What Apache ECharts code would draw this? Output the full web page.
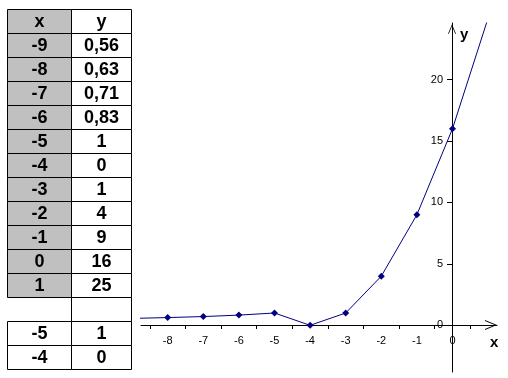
<!DOCTYPE html>
<html>
<head>
<meta charset="utf-8">
<script src="https://cdn.jsdelivr.net/npm/echarts@6/dist/echarts.min.js"></script>
<style>
html, body { margin: 0; padding: 0; background: #fff; }
#chart-container { width: 508px; height: 378px; }
</style>
</head>
<body>
<div id="chart-container"></div>
<script>
var xValues = [-9, -8, -7, -6, -5, -4, -3, -2, -1, 0, 1];
var yValues = [0.56, 0.63, 0.71, 0.83, 1, 0, 1, 4, 9, 16, 25];
var extraX = [-5, -4];
var extraY = [1, 0];
var xLabelValues = [-8, -7, -6, -5, -4, -3, -2, -1, 0];
var xTickValues = [-8.5, -7.5, -6.5, -5.5, -4.5, -3.5, -2.5, -1.5, -0.5, 0.5];
var yLabelValues = [0, 5, 10, 15, 20];

var dom = document.getElementById('chart-container');
var myChart = echarts.init(dom, null, { renderer: 'canvas' });

function fmt(v) {
    return String(v).replace('.', ',');
}

// open arrow head for the axis ends
var arrow = 'path://M0,12 L5,0 L10,12 L9,12 L5,2.5 L1,12 Z';

// table on the left
var tableRows = [{ x: 'x', y: 'y', grey: true }];
xValues.forEach(function (x, i) {
    tableRows.push({ x: fmt(x), y: fmt(yValues[i]), grey: true });
});
tableRows.push({ x: '', y: '', blank: true });
extraX.forEach(function (x, i) {
    tableRows.push({ x: fmt(x), y: fmt(extraY[i]) });
});

var colX = [7.5, 71.5];
var colW = [64, 60];
var top0 = 9.5, rowH = 24;
var graphics = [];
tableRows.forEach(function (row, r) {
    var y0 = top0 + r * rowH;
    [row.x, row.y].forEach(function (txt, c) {
        if (!(row.blank && c === 0)) {
            graphics.push({
                type: 'rect',
                shape: { x: colX[c], y: y0, width: colW[c], height: rowH },
                style: { fill: (row.grey && c === 0) ? '#c0c0c0' : '#ffffff', stroke: '#000', lineWidth: 1 }
            });
        }
        if (txt) {
            graphics.push({
                type: 'text',
                style: {
                    text: txt,
                    x: colX[c] + colW[c] / 2,
                    y: y0 + rowH / 2 + 1,
                    align: 'center',
                    verticalAlign: 'middle',
                    font: 'bold 18px "Liberation Sans", Arial',
                    fill: '#000'
                }
            });
        }
    });
});
graphics.push({
    type: 'text',
    style: { text: 'y', x: 460, y: 35, verticalAlign: 'middle', font: 'bold 15px "Liberation Sans", Arial', fill: '#000' }
});
graphics.push({
    type: 'text',
    style: { text: 'x', x: 490, y: 343, verticalAlign: 'middle', font: 'bold 15px "Liberation Sans", Arial', fill: '#000' }
});

var option = {
    animation: false,
    grid: { left: 141, right: 11, top: 23, bottom: 6, outerBoundsMode: 'none', containLabel: false },
    xAxis: {
        type: 'value',
        min: -8.75,
        max: 1.25,
        offset: -47,
        splitLine: { show: false },
        axisLine: {
            onZero: false,
            lineStyle: { color: '#000', width: 1 },
            symbol: ['none', arrow],
            symbolSize: [10, 12],
            symbolOffset: [0, -6]
        },
        axisTick: { show: true, length: 4, customValues: xTickValues, lineStyle: { color: '#000' } },
        axisLabel: {
            customValues: xLabelValues,
            margin: 10,
            color: '#000',
            fontSize: 11,
            fontFamily: '"Liberation Sans", Arial'
        }
    },
    yAxis: {
        type: 'value',
        min: -3.8,
        max: 24.6,
        offset: -311,
        splitLine: { show: false },
        axisLine: {
            show: true,
            onZero: false,
            lineStyle: { color: '#000', width: 1 },
            symbol: ['none', arrow],
            symbolSize: [8, 12],
            symbolOffset: [0, -6]
        },
        axisTick: { show: true, length: 5, customValues: yLabelValues, lineStyle: { color: '#000' } },
        axisLabel: {
            customValues: yLabelValues,
            margin: 9,
            color: '#000',
            fontSize: 11,
            fontFamily: '"Liberation Sans", Arial'
        }
    },
    graphic: graphics,
    series: [{
        type: 'line',
        data: xValues.map(function (x, i) { return [x, yValues[i]]; }),
        symbol: 'diamond',
        symbolSize: 7,
        showAllSymbol: true,
        clip: true,
        color: '#000080',
        lineStyle: { color: '#000080', width: 1 },
        itemStyle: { color: '#000080' }
    }]
};

myChart.setOption(option);
window.addEventListener('resize', myChart.resize);
</script>
</body>
</html>
